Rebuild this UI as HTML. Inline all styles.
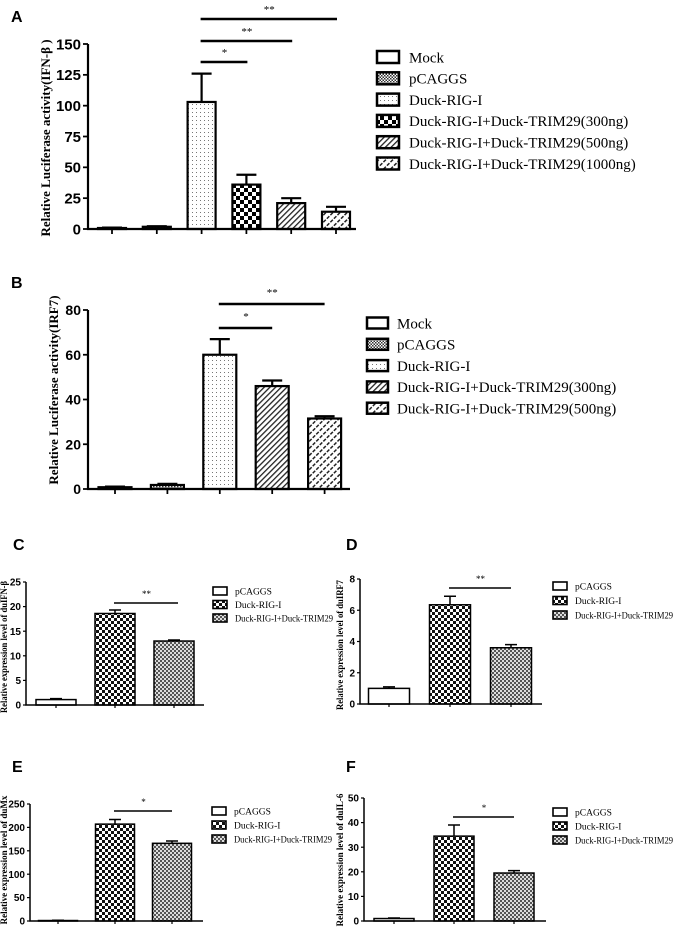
<!DOCTYPE html>
<html><head><meta charset="utf-8">
<style>
html,body{margin:0;padding:0;background:#fff;}
svg{display:block;}
.lbl{font-family:"Liberation Sans",Arial,sans-serif;font-weight:bold;}
.ser{font-family:"Liberation Serif","Times New Roman",serif;}
</style></head>
<body>
<svg id="fig" width="676" height="930" viewBox="0 0 676 930" xmlns="http://www.w3.org/2000/svg">
<defs>
 <pattern id="pFine" width="3" height="3" patternUnits="userSpaceOnUse"><rect width="3" height="3" fill="#fff"/><rect width="1.5" height="1.5" fill="#333"/><rect x="1.5" y="1.5" width="1.5" height="1.5" fill="#333"/></pattern>
 <pattern id="pDot" width="4" height="4" patternUnits="userSpaceOnUse"><rect width="4" height="4" fill="#fff"/><rect width="1" height="1" fill="#777"/></pattern>
 <pattern id="pBig" width="8" height="8" patternUnits="userSpaceOnUse"><rect width="8" height="8" fill="#fff"/><rect width="4" height="4" fill="#000"/><rect x="4" y="4" width="4" height="4" fill="#000"/></pattern>
 <pattern id="pHatch" width="4" height="4" patternUnits="userSpaceOnUse" patternTransform="rotate(45)"><rect width="4" height="4" fill="#fff"/><rect width="1.3" height="4" fill="#222"/></pattern>
 <pattern id="pHatch2" width="5" height="5" patternUnits="userSpaceOnUse" patternTransform="rotate(45)"><rect width="5" height="5" fill="#fff"/><rect width="1.5" height="3.5" fill="#222"/></pattern>
 <pattern id="pMed" width="6" height="6" patternUnits="userSpaceOnUse"><rect width="6" height="6" fill="#fff"/><rect width="3" height="3" fill="#111"/><rect x="3" y="3" width="3" height="3" fill="#111"/></pattern>
 <pattern id="pGray" width="4" height="4" patternUnits="userSpaceOnUse"><rect width="4" height="4" fill="#ddd"/><rect width="2" height="2" fill="#555"/><rect x="2" y="2" width="2" height="2" fill="#555"/></pattern>
</defs>
<g id="root"></g>
</svg>
<script>
// ---- data ----
const catsA = ["Mock","pCAGGS","Duck-RIG-I","Duck-RIG-I+Duck-TRIM29(300ng)","Duck-RIG-I+Duck-TRIM29(500ng)","Duck-RIG-I+Duck-TRIM29(1000ng)"];
const valsA = [0.8, 1.8, 103, 36, 21, 14];
const errA = [0.3, 0.5, 23, 8, 4, 4];
const ticksA = [0,25,50,75,100,125,150];
const sigA = [[2,3,"*"],[2,4,"**"],[2,5,"**"]];

const catsB = ["Mock","pCAGGS","Duck-RIG-I","Duck-RIG-I+Duck-TRIM29(300ng)","Duck-RIG-I+Duck-TRIM29(500ng)"];
const valsB = [0.8, 1.8, 60, 46, 31.5];
const errB = [0.3, 0.5, 7, 2.5, 1];
const ticksB = [0,20,40,60,80];
const sigB = [[2,3,"*"],[2,4,"**"]];

const catsQ = ["pCAGGS","Duck-RIG-I","Duck-RIG-I+Duck-TRIM29"];
const valsC = [1.1, 18.6, 13]; const errC = [0.2, 0.7, 0.2]; const ticksC = [0,5,10,15,20,25];
const valsD = [1.0, 6.35, 3.6]; const errD = [0.1, 0.55, 0.2]; const ticksD = [0,2,4,6,8];
const valsE = [1.0, 207, 166]; const errE = [0.5, 10, 5]; const ticksE = [0,50,100,150,200,250];
const valsF = [1.0, 34.5, 19.5]; const errF = [0.2, 4.5, 1]; const ticksF = [0,10,20,30,40,50];
const sigC = [[1,2,"**"]], sigD = [[1,2,"**"]], sigE = [[1,2,"*"]], sigF = [[1,2,"*"]];

const NS = "http://www.w3.org/2000/svg";
const root = document.getElementById("root");
function mk(tag, attrs, parent, text){
  const e = document.createElementNS(NS, tag);
  for (const k in attrs) e.setAttribute(k, attrs[k]);
  if (text !== undefined) e.textContent = text;
  (parent||root).appendChild(e);
  return e;
}
function fit(t, maxW){
  if (!maxW) return;
  try {
    if (t.getComputedTextLength() > maxW) {
      t.setAttribute("textLength", maxW);
      t.setAttribute("lengthAdjust", "spacingAndGlyphs");
    }
  } catch(e) {}
}

function panel(cfg){
  const g = mk("g", {});
  
  
  const yS = v => cfg.y0 - (v / cfg.max) * (cfg.y0 - cfg.yTop);
  const xS = i => cfg.x0 + cfg.first + i * cfg.step;
  const L = mk("text", {x:cfg.letter[0], y:cfg.letter[1], class:"lbl", "font-size":16}, g, cfg.letterText);
  
  
  cfg.vals.forEach((v, i) => {
    const cx = xS(i), top = yS(v), eTop = yS(v + cfg.err[i]);
    const b = mk("rect", {x:cx - cfg.bw/2, y:top, width:cfg.bw, height:cfg.y0 - top, fill:cfg.fills[i], stroke:"#000", "stroke-width":cfg.sw}, g);
    
    
    const e = mk("path", {d:`M${cx},${top} V${eTop} M${cx-cfg.cap},${eTop} H${cx+cfg.cap}`, stroke:"#000", "stroke-width":cfg.sw, fill:"none"}, g);
    
    
  });
  const ax = mk("path", {d:`M${cfg.x0},${cfg.yTop} V${cfg.y0} H${cfg.xEnd}`, stroke:"#000", "stroke-width":cfg.sw, fill:"none"}, g);
  
  
  cfg.vals.forEach((v, i) => {
    mk("line", {x1:xS(i), x2:xS(i), y1:cfg.y0, y2:cfg.y0 + cfg.tl, stroke:"#000", "stroke-width":cfg.sw*0.8}, g);
  });
  cfg.ticks.forEach(t => {
    const y = yS(t);
    mk("line", {x1:cfg.x0 - cfg.tl, x2:cfg.x0, y1:y, y2:y, stroke:"#000", "stroke-width":cfg.sw*0.8}, g);
    const tx = mk("text", {x:cfg.x0 - cfg.tl - 2, y:y + cfg.tf*0.36, class:"lbl", "font-size":cfg.tf, "text-anchor":"end"}, g, String(t));
    
    
  });
  const yt = mk("text", {x:0, y:0, class:"ser", "font-weight":"bold", "font-size":cfg.yf, "text-anchor":"middle", transform:`translate(${cfg.ytx},${cfg.yty}) rotate(-90)`}, g, cfg.ytitle);
  
  
  fit(yt, cfg.ytLen);
  cfg.sig.forEach((s, k) => {
    const y = cfg.sigY[k];
    const ln = mk("line", {x1:xS(s[0]) - 1, x2:xS(s[1]) + cfg.sigExt, y1:y, y2:y, stroke:"#000", "stroke-width":cfg.sigW}, g);
    
    
    const st = mk("text", {x:(xS(s[0]) + xS(s[1]) + cfg.sigExt)/2, y:y - cfg.starOff, class:"ser", "font-size":cfg.starF, "text-anchor":"middle"}, g, s[2]);
    
    
  });
  const lg = mk("g", {}, g);
  
  
  cfg.cats.forEach((c, i) => {
    const y = cfg.leg[1] + i * cfg.legStep;
    const ent = mk("g", {}, lg);
    
    
    mk("rect", {x:cfg.leg[0], y:y - cfg.swH/2, width:cfg.swW, height:cfg.swH, fill:cfg.fills[i], stroke:"#000", "stroke-width":cfg.swS}, ent);
    const tt = mk("text", {x:cfg.leg[2], y:y + cfg.legF*0.35, class:"ser", "font-size":cfg.legF}, ent, c);
    fit(tt, cfg.legMax);
  });
}

panel({name:"panel-a", letterText:"A", letter:[11,22], cats:catsA, vals:valsA, err:errA, ticks:ticksA, sig:sigA,
  fills:["#fff","url(#pFine)","url(#pDot)","url(#pBig)","url(#pHatch)","url(#pHatch2)"],
  x0:88, y0:229, yTop:44, max:150, first:24, step:44.8, bw:28, cap:10, xEnd:356, sw:2.2, tl:5, tf:15,
  ytitle:"Relative Luciferase activity(IFN-β )", yf:13, ytx:50, yty:138,
  sigY:[62,41,19], sigExt:1, sigW:2.5, starOff:6, starF:11,
  leg:[377,57,409], legStep:21.3, swW:22, swH:12, swS:2.5, legF:15});

panel({name:"panel-b", letterText:"B", letter:[11,288], cats:catsB, vals:valsB, err:errB, ticks:ticksB, sig:sigB,
  fills:["#fff","url(#pFine)","url(#pDot)","url(#pHatch)","url(#pHatch2)"],
  x0:88, y0:489, yTop:310, max:80, first:27, step:52.4, bw:33, cap:10, xEnd:350, sw:2.2, tl:5, tf:14,
  ytitle:"Relative Luciferase activity(IRF7)", yf:13, ytx:58, yty:390,
  sigY:[328,304], sigExt:0, sigW:2.5, starOff:8, starF:11,
  leg:[367,323,397], legStep:21.3, swW:21, swH:11, swS:2.5, legF:15});

const fillsQ = ["#fff","url(#pMed)","url(#pGray)"];
panel({name:"panel-c", letterText:"C", letter:[13,550], cats:catsQ, vals:valsC, err:errC, ticks:ticksC, sig:sigC, fills:fillsQ,
  x0:26, y0:705, yTop:582, max:25, first:30, step:59, bw:40, cap:6, xEnd:204, sw:1.5, tl:3, tf:10,
  ytitle:"Relative expression level of duIFN-β", yf:9, ytx:7, yty:647, ytLen:132,
  sigY:[603], sigExt:4, sigW:1.5, starOff:6, starF:9,
  leg:[213,591,235], legStep:13.5, swW:14, swH:8, swS:1.6, legF:9.5, legMax:98});

panel({name:"panel-d", letterText:"D", letter:[346,550], cats:catsQ, vals:valsD, err:errD, ticks:ticksD, sig:sigD, fills:fillsQ,
  x0:360, y0:704, yTop:579, max:8, first:29, step:61, bw:41, cap:6, xEnd:542, sw:1.5, tl:3, tf:10,
  ytitle:"Relative expression level of duIRF7", yf:9, ytx:343, yty:645, ytLen:130,
  sigY:[588], sigExt:0, sigW:1.5, starOff:6, starF:9,
  leg:[553,586,575], legStep:14.5, swW:14, swH:8, swS:1.6, legF:9.5, legMax:98});

panel({name:"panel-e", letterText:"E", letter:[12,772], cats:catsQ, vals:valsE, err:errE, ticks:ticksE, sig:sigE, fills:fillsQ,
  x0:30, y0:921, yTop:804, max:250, first:28, step:57, bw:39, cap:6, xEnd:203, sw:1.5, tl:3, tf:10,
  ytitle:"Relative expression level of duMx", yf:9, ytx:7, yty:860, ytLen:135,
  sigY:[811], sigExt:0, sigW:1.5, starOff:6, starF:9,
  leg:[212,811,234], legStep:14, swW:14, swH:8, swS:1.6, legF:9.5, legMax:98});

panel({name:"panel-f", letterText:"F", letter:[346,772], cats:catsQ, vals:valsF, err:errF, ticks:ticksF, sig:sigF, fills:fillsQ,
  x0:364, y0:921, yTop:798, max:50, first:30, step:60, bw:40, cap:6, xEnd:546, sw:1.5, tl:3, tf:10,
  ytitle:"Relative expression level of duIL-6", yf:9, ytx:343, yty:860, ytLen:135,
  sigY:[817], sigExt:0, sigW:1.5, starOff:6, starF:9,
  leg:[553,812,575], legStep:14, swW:14, swH:8, swS:1.6, legF:9.5, legMax:98});
</script>
</body></html>
